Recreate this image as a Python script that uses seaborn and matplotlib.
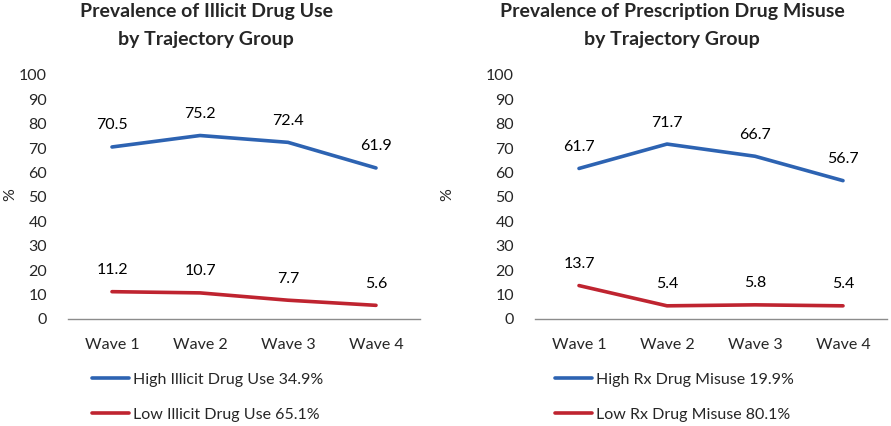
import matplotlib
matplotlib.use("Agg")
import matplotlib.pyplot as plt
import seaborn as sns
import pandas as pd

waves = ["Wave 1", "Wave 2", "Wave 3", "Wave 4"]

illicit_high = [70.5, 75.2, 72.4, 61.9]
illicit_low = [11.2, 10.7, 7.7, 5.6]
illicit_labels = ["High Illicit Drug Use 34.9%", "Low Illicit Drug Use 65.1%"]

rx_high = [61.7, 71.7, 66.7, 56.7]
rx_low = [13.7, 5.4, 5.8, 5.4]
rx_labels = ["High Rx Drug Misuse 19.9%", "Low Rx Drug Misuse 80.1%"]

titles = [["Prevalence of Illicit Drug Use", "by Trajectory Group"],
          ["Prevalence of Prescription Drug Misuse", "by Trajectory Group"]]

yticks = list(range(0, 101, 10))

BLUE = "#2d63b2"
RED = "#bf2430"

sns.set_theme(style="white")
plt.rcParams['font.family'] = ['Lato', 'DejaVu Sans']

W, H = 891, 426
fig = plt.figure(figsize=(W / 100, H / 100), dpi=100)


def px_axes(x0, x1, ytop, ybot):
    return fig.add_axes([x0 / W, (H - ybot) / H, (x1 - x0) / W, (ybot - ytop) / H])


panels = [
    (illicit_high, illicit_low, illicit_labels, titles[0], (68, 420), 206, 10, 92),
    (rx_high, rx_low, rx_labels, titles[1], (535, 887), 672, 447, 555),
]

for high, low, labels, title, (x0, x1), tcx, pcx, legx in panels:
    ax = px_axes(x0, x1, 75, 319)
    df = pd.DataFrame({
        "wave": waves * 2,
        "value": high + low,
        "group": [labels[0]] * len(waves) + [labels[1]] * len(waves),
    })
    sns.lineplot(data=df, x="wave", y="value", hue="group",
                 palette={labels[0]: BLUE, labels[1]: RED},
                 linewidth=2.6, ax=ax, legend=False, sort=False)
    for vals in (high, low):
        for i, v in enumerate(vals):
            ax.annotate(f"{v:.1f}", (i, v), xytext=(0, 15.5), textcoords="offset points",
                        ha="center", va="center", fontsize=11.5, color="black")
    ax.set_xlim(-0.5, len(waves) - 0.5)
    ax.set_ylim(0, 100)
    ax.set_yticks(yticks)
    ax.set_yticklabels([str(t) for t in yticks], fontsize=11.5)
    ax.set_xticks(range(len(waves)))
    ax.set_xticklabels(waves, fontsize=11.5)
    ax.tick_params(axis="y", length=0, pad=15)
    ax.tick_params(axis="x", length=0, pad=14)
    ax.set_xlabel("")
    ax.set_ylabel("")
    for s in ["top", "right", "left"]:
        ax.spines[s].set_visible(False)
    ax.spines["bottom"].set_color("#8c8c8c")
    ax.spines["bottom"].set_linewidth(1.0)
    ax.patch.set_alpha(0)

    fig.text(tcx / W, (H - 12) / H, title[0], ha="center", va="center",
             fontsize=14, fontweight="bold")
    fig.text(tcx / W, (H - 40) / H, title[1], ha="center", va="center",
             fontsize=14, fontweight="bold")
    fig.text(pcx / W, (H - 195) / H, "%", ha="center", va="center",
             rotation=90, fontsize=11.5)

    handles = [plt.Line2D([], [], color=BLUE, lw=2.6),
               plt.Line2D([], [], color=RED, lw=2.6)]
    ax.legend(handles, labels, loc="center left",
              bbox_to_anchor=(legx / W, (H - 397) / H), bbox_transform=fig.transFigure,
              frameon=False, fontsize=11.5, handlelength=2.3, handletextpad=0.25,
              labelspacing=1.3, borderpad=0, borderaxespad=0)

fig.savefig("out.png", dpi=100)
